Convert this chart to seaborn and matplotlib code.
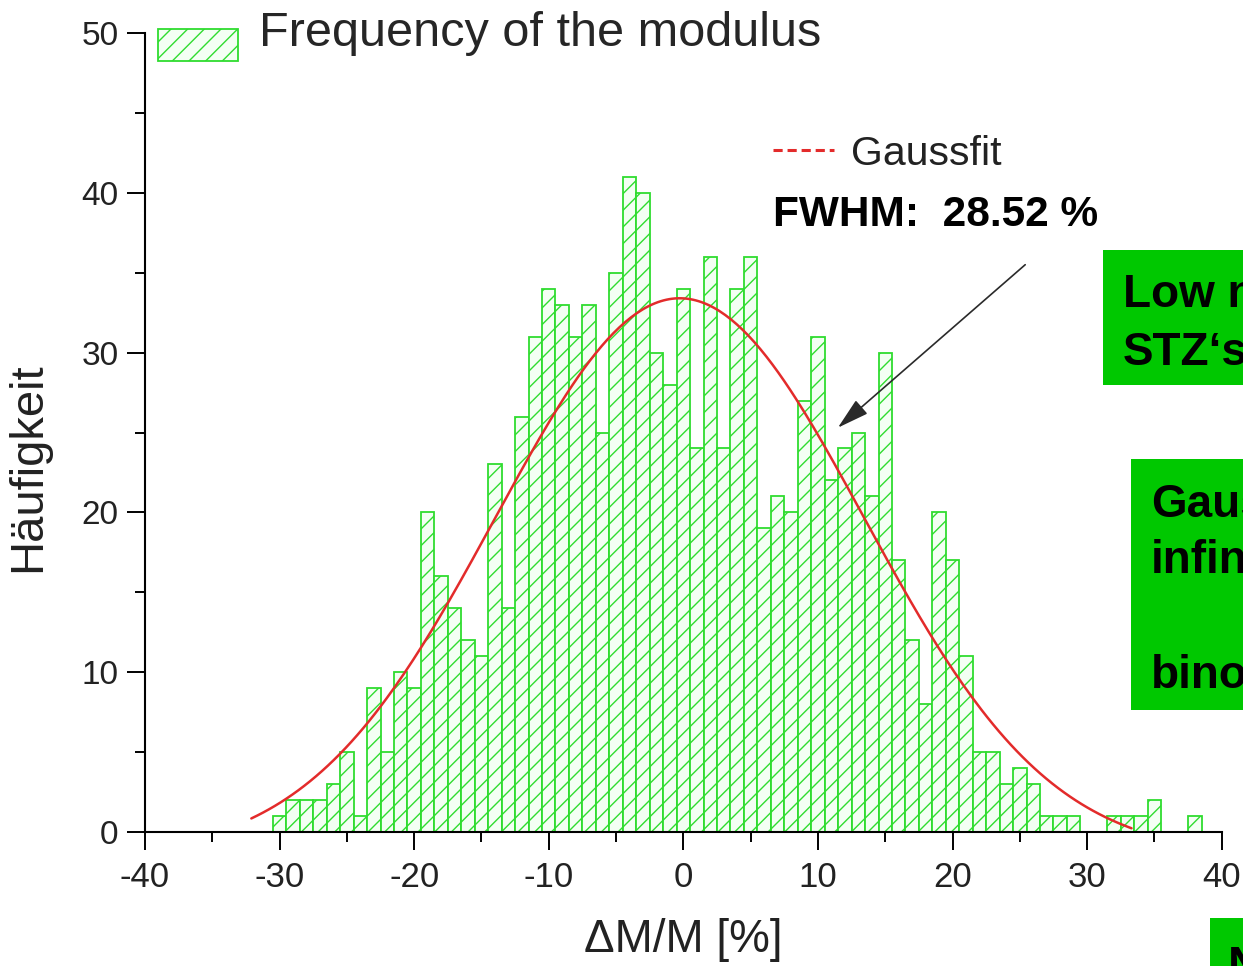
import numpy as np
import pandas as pd
import matplotlib
matplotlib.use("Agg")
import matplotlib.pyplot as plt
import matplotlib.patches as mpatches
from matplotlib.lines import Line2D
from matplotlib.legend_handler import HandlerPatch
from matplotlib.ticker import MultipleLocator
import seaborn as sns

# ---------------- data ----------------
BIN_CENTERS = list(range(-30, 39))          # ΔM/M [%], bin width 1
COUNTS = [1, 2, 2, 2, 3, 5, 1, 9, 5, 10,     # -30 .. -21
          9, 20, 16, 14, 12, 11, 23, 14, 26, 31,  # -20 .. -11
          34, 33, 31, 33, 25, 35, 41, 40, 30, 28,  # -10 .. -1
          34, 24, 36, 24, 34, 36, 19, 21, 20, 27,  # 0 .. 9
          31, 22, 24, 25, 21, 30, 17, 12, 8, 20,   # 10 .. 19
          17, 11, 5, 5, 3, 4, 3, 1, 1, 1,          # 20 .. 29
          0, 0, 1, 1, 1, 2, 0, 0, 1]               # 30 .. 38
BIN_WIDTH = 1.0

# Gauss fit parameters (as drawn)
FIT_CENTER = -0.27
FIT_SIGMA = 13.7
FIT_HEIGHT = 34.9
FIT_OFFSET = -1.5
FIT_RANGE = (-32.1, 33.3)

X_TICKS = [-40, -30, -20, -10, 0, 10, 20, 30, 40]
Y_TICKS = [0, 10, 20, 30, 40, 50]

LEGEND_LABEL = "Frequency of the modulus"
FIT_LABEL = "Gaussfit"
FWHM_TEXT = "FWHM:  28.52 %"
BOX1_LINES = ["Low n", "STZ\u2018s"]
BOX2_LINES = ["Gauss", "infinite", "binomial"]
BOX3_TEXT = "N"

# ---------------- style ----------------
sns.set_theme(style="ticks")
plt.rcParams["font.family"] = ["Liberation Sans", "DejaVu Sans"]
plt.rcParams["hatch.linewidth"] = 1.0
plt.rcParams["axes.unicode_minus"] = False

BAR_EDGE = "#2FDC2F"
BAR_FACE = "#F3FFF3"
CURVE_RED = "#E32B2B"
BOX_GREEN = "#00C800"

fig = plt.figure(figsize=(12.43, 9.66), dpi=100)
ax = fig.add_axes([145 / 1243, 1 - 832 / 966, (1221.7 - 145) / 1243, (832 - 33) / 966])

hist_df = pd.DataFrame({"dm": BIN_CENTERS, "count": COUNTS})
sns.histplot(data=hist_df, x="dm", weights="count", binwidth=BIN_WIDTH,
             binrange=(BIN_CENTERS[0] - BIN_WIDTH / 2, BIN_CENTERS[-1] + BIN_WIDTH / 2),
             ax=ax, facecolor=BAR_FACE, edgecolor=BAR_EDGE, hatch="//",
             linewidth=1.3, legend=False)

fit_x = np.linspace(FIT_RANGE[0], FIT_RANGE[1], 300)
fit_y = FIT_OFFSET + FIT_HEIGHT * np.exp(-(fit_x - FIT_CENTER) ** 2 / (2 * FIT_SIGMA ** 2))
sns.lineplot(x=fit_x, y=fit_y, ax=ax, color=CURVE_RED, linewidth=1.8, legend=False)

ax.set_xlim(-40, 40)
ax.set_ylim(0, 50)
ax.set_xticks(X_TICKS)
ax.set_yticks(Y_TICKS)
ax.xaxis.set_minor_locator(MultipleLocator(5))
ax.yaxis.set_minor_locator(MultipleLocator(5))
ax.tick_params(which="major", length=13, width=1.4, color="black",
               labelcolor="#222222")
ax.tick_params(axis="x", which="major", pad=8, labelsize=25)
ax.tick_params(axis="y", which="major", pad=6, labelsize=24)
ax.tick_params(which="minor", length=7, width=1.4, color="black")
for s in ["left", "bottom"]:
    ax.spines[s].set_linewidth(1.5)
    ax.spines[s].set_color("black")
sns.despine(ax=ax)
ax.grid(False)
ax.set_facecolor("white")

ax.set_ylabel("Häufigkeit", fontsize=34, color="#222222")
ax.yaxis.set_label_coords(-0.088, 0.456)
ax.set_xlabel("\u0394M/M [%]", fontsize=33, color="#222222")
ax.xaxis.set_label_coords(0.5, -0.108)

# legend: histogram (patch sits a little below the text line, as in the reference)
def shifted_patch(legend, orig_handle, xdescent, ydescent, width, height, fontsize):
    return mpatches.Rectangle((-xdescent, -ydescent - 0.52 * height), width, height)

hist_handle = mpatches.Patch(facecolor=BAR_FACE, edgecolor=BAR_EDGE, hatch="//",
                             linewidth=1.3, label=LEGEND_LABEL)
leg1 = ax.legend(handles=[hist_handle], loc="center left",
                 bbox_to_anchor=(0.012, 1.0), frameon=False, fontsize=35,
                 borderpad=0, borderaxespad=0, handlelength=1.65,
                 handleheight=0.62, handletextpad=0.42,
                 handler_map={mpatches.Patch: HandlerPatch(patch_func=shifted_patch)})
ax.add_artist(leg1)

# legend: Gauss fit
fit_handle = Line2D([], [], color=CURVE_RED, linestyle=(0, (3, 1.6)), linewidth=2.2,
                    label=FIT_LABEL)
leg2 = ax.legend(handles=[fit_handle], loc="center left",
                 bbox_to_anchor=(0.583, 0.849), frameon=False, fontsize=29.5,
                 borderpad=0, borderaxespad=0, handlelength=1.5,
                 handletextpad=0.42)
for t in leg2.get_texts():
    t.set_color("#222222")

ax.text(6.65, 37.9, FWHM_TEXT, fontsize=30.5, fontweight="bold", color="black",
        ha="left", va="baseline")

ax.annotate("", xy=(11.48, 25.3), xytext=(25.4, 35.5),
            arrowprops=dict(arrowstyle="-|>,head_length=0.9,head_width=0.25",
                            color="#2a2a2a", lw=1.2, mutation_scale=22,
                            shrinkA=0, shrinkB=0))

# green boxes (cropped at the figure edge, as in the reference)
W, H = 1243, 966
def fig_box(x0, y0, y1):
    fig.patches.append(mpatches.Rectangle((x0 / W, 1 - y1 / H), 1.05 - x0 / W,
                                          (y1 - y0) / H, transform=fig.transFigure,
                                          facecolor=BOX_GREEN, edgecolor="none",
                                          zorder=5))

fig_box(1103, 250, 385)
fig_box(1131, 459, 710)
fig_box(1210, 918, 1000)

for txt, base in zip(BOX1_LINES, [307, 365]):
    fig.text(1123 / W, 1 - base / H, txt, fontsize=33, fontweight="bold",
             color="black", ha="left", va="baseline", zorder=6)
for txt, base in zip(BOX2_LINES, [517, 573, 688]):
    fig.text(1151 / W, 1 - base / H, txt, fontsize=33, fontweight="bold",
             color="black", ha="left", va="baseline", zorder=6)
fig.text(1228 / W, 1 - 979 / H, BOX3_TEXT, fontsize=33, fontweight="bold",
         color="black", ha="left", va="baseline", zorder=6)

fig.savefig("out.png", dpi=100, facecolor="white")
